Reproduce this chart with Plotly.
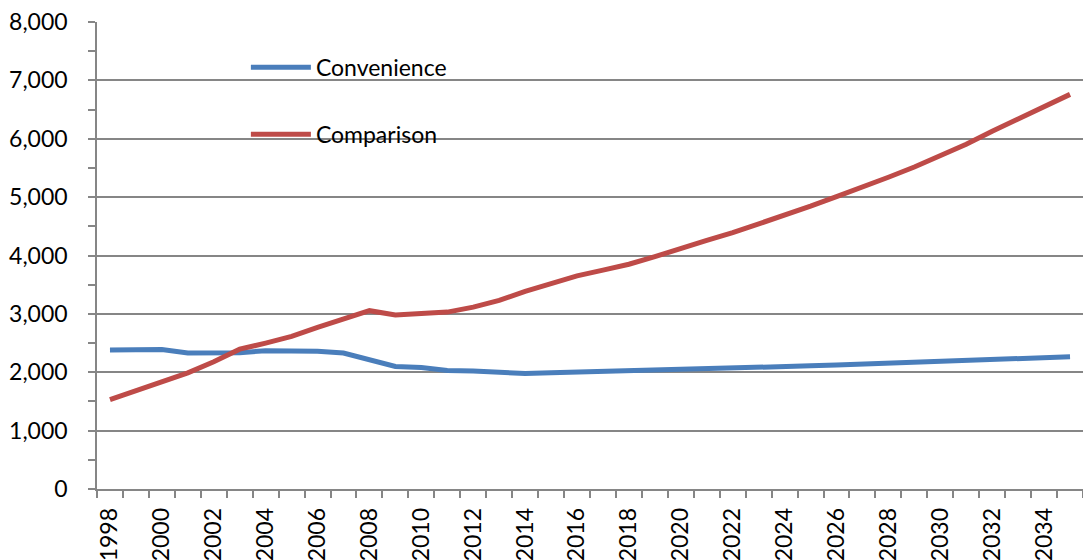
import plotly.graph_objects as go

years = list(range(1998, 2036))
convenience = [2380, 2395, 2390, 2330, 2330, 2335, 2370, 2370, 2360, 2330,
               2215, 2100, 2080, 2030, 2020, 1990, 1980, 1990, 2000, 2010,
               2020, 2030, 2040, 2050, 2065, 2080, 2095, 2110, 2125, 2140,
               2155, 2170, 2185, 2200, 2215, 2230, 2250, 2265]
comparison = [1530, 1690, 1850, 1990, 2180, 2395, 2500, 2615, 2770, 2920,
              3055, 2980, 3015, 3030, 3115, 3230, 3385, 3520, 3650, 3750,
              3850, 3980, 4130, 4260, 4390, 4535, 4690, 4845, 5010, 5165,
              5340, 5515, 5710, 5905, 6130, 6335, 6545, 6760]
ytick_vals = [0, 1000, 2000, 3000, 4000, 5000, 6000, 7000, 8000]
ytick_text = ["0", "1,000", "2,000", "3,000", "4,000", "5,000", "6,000", "7,000", "8,000"]
xtick_vals = list(range(1998, 2036, 2))
xtick_text = [str(y) for y in xtick_vals]

FONT = "Lato"
GRAY = "#868686"

fig = go.Figure()
fig.add_trace(go.Scatter(x=years, y=convenience, name="Convenience", mode="lines",
                         line=dict(color="#4A7EBB", width=5), legendgroup="a"))
fig.add_trace(go.Scatter(x=years, y=comparison, name="Comparison", mode="lines",
                         line=dict(color="#BE4B48", width=5), legendgroup="b"))

fig.update_layout(
    width=1083, height=560,
    margin=dict(l=97, r=0, t=22, b=71),
    paper_bgcolor="white", plot_bgcolor="white",
    font=dict(family=FONT, size=23, color="black"),
    showlegend=True,
    legend=dict(x=0.151, y=0.949, xanchor="left", yanchor="top",
                bgcolor="rgba(0,0,0,0)", tracegroupgap=34,
                font=dict(family=FONT, size=23), itemwidth=60),
)
fig.update_xaxes(
    range=[1997.5, 2035.5], tickmode="array", tickvals=xtick_vals, ticktext=xtick_text,
    tickangle=-90, ticks="", showgrid=False, showline=True, linecolor=GRAY, linewidth=1.5,
    zeroline=False, ticklabelstandoff=8,
    minor=dict(tickmode="linear", tick0=1997.5, dtick=1, ticks="outside", ticklen=7,
               tickcolor=GRAY, tickwidth=1.5, showgrid=False),
)
fig.update_yaxes(
    range=[0, 8000], tickmode="array", tickvals=ytick_vals, ticktext=ytick_text,
    ticks="outside", ticklen=7, tickcolor=GRAY, tickwidth=1.5,
    showgrid=True, gridcolor=GRAY, gridwidth=1.5,
    showline=True, linecolor=GRAY, linewidth=1.5, zeroline=False,
    ticklabelstandoff=16,
    minor=dict(tickmode="linear", tick0=500, dtick=1000, ticks="outside", ticklen=7,
               tickcolor=GRAY, tickwidth=1.5, showgrid=False),
)

fig.write_html("out.html")
